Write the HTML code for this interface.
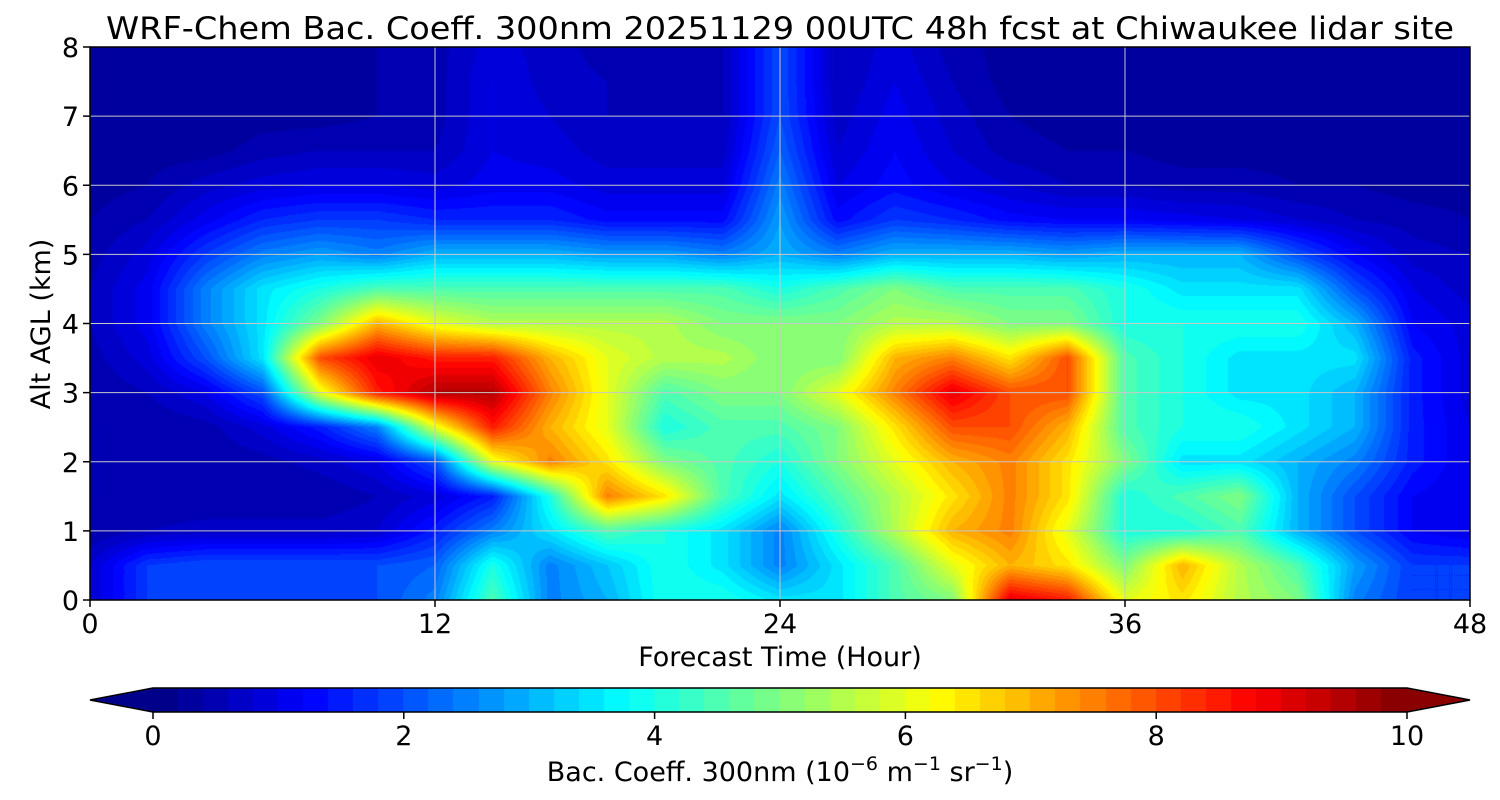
<!DOCTYPE html>
<html><head><meta charset="utf-8">
<style>
html,body{margin:0;padding:0;background:#fff;width:1500px;height:800px;overflow:hidden;font-family:"DejaVu Sans",sans-serif;}
#wrap{position:relative;width:1500px;height:800px;}
canvas,svg{position:absolute;left:0;top:0;}
</style></head>
<body>
<div id="wrap">
<canvas id="field" width="1500" height="800"></canvas>
<svg id="ov" width="1500" height="800"></svg>
</div>
<script>
// ---- data ----
const hours = [0,2,4,6,8,10,12,14,16,18,20,22,24,26,28,30,32,34,36,38,40,42,44,46,48];
const alts = [0,0.5,1,1.5,2,2.5,3,3.5,4,4.5,5,5.5,6,6.5,7,7.5,8];
const values = [
[0.8,1.8,1.8,1.8,1.8,2.0,2.5,4.5,2.5,3.0,4.0,4.0,3.5,3.5,4.5,5.0,9.0,8.5,6.0,6.5,5.5,5.0,2.5,1.8,1.8],
[0.8,1.8,2,2,2,2,2.2,4,2.5,3.2,4,3.5,2.5,3.5,4.5,6,7,6.5,5,7,5.5,4.5,2.8,1.8,1.8],
[0.4,0.6,0.7,0.7,0.7,0.8,1.5,2.5,3.5,4.5,4,3.5,2.5,4,5.5,7,7.5,6,4,4,4.5,3,2,1.2,1],
[0.4,0.4,0.4,0.4,0.4,0.6,0.9,1.5,4,7.5,6.5,4.5,3.5,4.5,5.5,6.5,7.5,6.5,4,4.5,5,3,2,1.2,1],
[0.4,0.4,0.4,0.5,0.7,1,2,6,7.5,6.5,5,4.5,4,5,6,7,7.5,6.5,5,3.5,3.5,3,2.5,1.5,1],
[0.4,0.4,0.5,0.9,1.5,2.5,6,8.5,7,6,4,4.5,4.5,5,6.5,8,8,7,4.5,4,4,3.5,3,1.5,1],
[0.4,0.6,1,2,6,8.5,9.5,9.5,7.5,6,4.5,5,5,6,7.5,9,8,8,4.5,4,3.5,3.5,3,1.5,0.9],
[0.5,0.9,2,3.5,8,9,8.5,8.5,7,6,5.5,5.5,5,5,7,7.5,6.5,8,4.5,4,3.5,3.5,3.5,1.5,0.9],
[0.6,1.1,2.5,3.5,5,7,6,5.5,5.5,5.5,5.5,5,5,5,5.5,5.5,5,5,4,4,4,4,3,1.2,0.9],
[0.6,1.1,2.5,3.5,4,4.5,4.5,4.5,4.5,4.5,4.5,4.5,4,4.5,5,4.5,4.5,4.5,4,3.5,3.5,3.5,2,1,0.7],
[0.5,0.9,1.8,2.5,2.8,2.5,3,3,3,2.8,2.8,2.5,3,2.5,3,3,3,2.8,3,3,3,2,1.2,0.7,0.6],
[0.4,0.6,1.1,1.6,1.8,1.8,1.6,1.6,1.6,1.3,1.3,1.3,2.8,1.3,1.8,1.6,1.3,1.2,1.2,1.1,1,0.8,0.6,0.5,0.4],
[0.3,0.4,0.7,0.9,1,1,0.9,1.1,1.1,0.9,0.9,0.9,2.5,1.0,1.3,1.0,0.8,0.6,0.6,0.5,0.5,0.4,0.4,0.3,0.3],
[0.2,0.3,0.3,0.5,0.6,0.6,0.6,1.0,0.9,0.7,0.7,0.7,2.2,0.8,1.2,0.8,0.5,0.4,0.4,0.3,0.3,0.3,0.3,0.3,0.3],
[0.2,0.2,0.2,0.3,0.3,0.4,0.5,1.0,0.8,0.6,0.6,0.6,2,0.7,1.1,0.7,0.4,0.3,0.3,0.3,0.3,0.3,0.3,0.3,0.3],
[0.2,0.2,0.2,0.2,0.3,0.4,0.5,1.0,0.7,0.6,0.5,0.6,2,0.6,1.0,0.6,0.3,0.2,0.3,0.3,0.3,0.3,0.3,0.3,0.3],
[0.2,0.2,0.2,0.2,0.3,0.4,0.5,0.9,0.7,0.5,0.4,0.6,2,0.6,0.9,0.5,0.3,0.2,0.3,0.3,0.3,0.3,0.3,0.3,0.3]
];
const xTicks = [0,12,24,36,48];
const yTicks = [0,1,2,3,4,5,6,7,8];
const cbTicks = [0,2,4,6,8,10];
const levelStep = 0.2;

// ---- layout ----
const PL=90,PR=1470,PT=47,PB=600;
const X = h => PL + (h-0)/(48-0)*(PR-PL);
const Y = a => PB - (a-0)/(8-0)*(PB-PT);
const CBL=153,CBR=1407,CBT=688,CBB=712;
const CX = v => CBL + v/10*(CBR-CBL);

function jet(t){
  t=Math.max(0,Math.min(1,t));
  const f=(x)=>Math.max(0,Math.min(1,x));
  const r=f(1.5-Math.abs(4*t-3)), g=f(1.5-Math.abs(4*t-2)), b=f(1.5-Math.abs(4*t-1));
  return [Math.round(r*255),Math.round(g*255),Math.round(b*255)];
}
function levelColor(v){
  const n=Math.round(10/levelStep);
  let k=Math.floor(v/levelStep); k=Math.max(0,Math.min(n-1,k));
  return jet((k+0.5)/n);
}
function sample(h,a){
  let i=0; while(i<hours.length-2 && h>hours[i+1]) i++;
  let j=0; while(j<alts.length-2 && a>alts[j+1]) j++;
  const tx=(h-hours[i])/(hours[i+1]-hours[i]), ty=(a-alts[j])/(alts[j+1]-alts[j]);
  const v00=values[j][i],v10=values[j][i+1],v01=values[j+1][i],v11=values[j+1][i+1];
  return (v00*(1-tx)+v10*tx)*(1-ty)+(v01*(1-tx)+v11*tx)*ty;
}
const cv=document.getElementById('field'), ctx=cv.getContext('2d');
const W=PR-PL,H=PB-PT;
const img=ctx.createImageData(W,H);
for(let py=0;py<H;py++){
  const a=8*(1-(py+0.5)/H);
  for(let px=0;px<W;px++){
    const h=48*(px+0.5)/W;
    const c=levelColor(sample(h,a));
    const o=(py*W+px)*4;
    img.data[o]=c[0];img.data[o+1]=c[1];img.data[o+2]=c[2];img.data[o+3]=255;
  }
}
ctx.putImageData(img,PL,PT);
// colorbar
const nl=Math.round(10/levelStep);
for(let k=0;k<nl;k++){
  const c=jet((k+0.5)/nl);
  ctx.fillStyle=`rgb(${c[0]},${c[1]},${c[2]})`;
  ctx.fillRect(Math.floor(CX(k*levelStep)),CBT,Math.ceil(CX((k+1)*levelStep)-CX(k*levelStep))+1,CBB-CBT);
}
let c0=jet(0.5/nl),c1=jet((nl-0.5)/nl);
ctx.fillStyle=`rgb(${c0})`;ctx.beginPath();ctx.moveTo(CBL,CBT);ctx.lineTo(90,(CBT+CBB)/2);ctx.lineTo(CBL,CBB);ctx.fill();
ctx.fillStyle=`rgb(${c1})`;ctx.beginPath();ctx.moveTo(CBR,CBT);ctx.lineTo(1470,(CBT+CBB)/2);ctx.lineTo(CBR,CBB);ctx.fill();

// ---- overlay ----
const svg=document.getElementById('ov'), NS='http://www.w3.org/2000/svg';
const FF='DejaVu Sans, sans-serif';
const FS=27;
function mk(tag,attrs,parent){const e=document.createElementNS(NS,tag);for(const k in attrs)e.setAttribute(k,attrs[k]);(parent||svg).appendChild(e);return e;}
function txt(s,attrs){const e=mk('text',Object.assign({'font-family':FF,'fill':'#000'},attrs));e.textContent=s;return e;}

xTicks.forEach(t=>{
  if(t>0&&t<48){const g=mk('line',{x1:X(t),x2:X(t),y1:PT,y2:PB,stroke:'#c8c8c8','stroke-width':1});
  
  }
  const tk=mk('line',{x1:X(t),x2:X(t),y1:PB,y2:PB+7,stroke:'#000','stroke-width':1.5});
  
  
  const l=txt(String(t),{x:X(t),y:PB+33,'font-size':FS,'text-anchor':'middle'});
  
  
});
yTicks.forEach(t=>{
  if(t>0&&t<8){const g=mk('line',{x1:PL,x2:PR,y1:Y(t),y2:Y(t),stroke:'#c8c8c8','stroke-width':1});
  
  }
  const tk=mk('line',{x1:PL-7,x2:PL,y1:Y(t),y2:Y(t),stroke:'#000','stroke-width':1.5});
  
  
  const l=txt(String(t),{x:PL-11,y:Y(t)+10,'font-size':FS,'text-anchor':'end'});
  
  
});
const fr=mk('rect',{x:PL,y:PT,width:PR-PL,height:PB-PT,fill:'none',stroke:'#000','stroke-width':1.5});


const ti=txt('WRF-Chem Bac. Coeff. 300nm  20251129 00UTC 48h fcst at Chiwaukee lidar site',{x:780,y:39,'font-size':31,'text-anchor':'middle',textLength:1348,lengthAdjust:'spacingAndGlyphs'});


ti.setAttribute('xml:space','preserve');
const xt=txt('Forecast Time (Hour)',{x:780,y:666,'font-size':FS,'text-anchor':'middle'});


const yt=txt('Alt AGL (km)',{x:0,y:0,'font-size':FS,'text-anchor':'middle',transform:'translate(50,324) rotate(-90)'});


// colorbar outline
const cbo=mk('path',{d:`M${CBL},${CBT} L${CBR},${CBT} L1470,${(CBT+CBB)/2} L${CBR},${CBB} L${CBL},${CBB} L90,${(CBT+CBB)/2} Z`,fill:'none',stroke:'#000','stroke-width':1.5});


cbTicks.forEach(t=>{
  const tk=mk('line',{x1:CX(t),x2:CX(t),y1:CBB,y2:CBB+7,stroke:'#000','stroke-width':1.5});
  
  
  const l=txt(String(t),{x:CX(t),y:CBB+33,'font-size':FS,'text-anchor':'middle'});
  
  
});
const cl=mk('text',{x:780,y:781,'font-size':FS,'text-anchor':'middle','font-family':FF});


cl.setAttribute('xml:space','preserve');
cl.innerHTML='Bac. Coeff. 300nm  (10<tspan dy="-11" font-size="19">−6</tspan><tspan dy="11"> m</tspan><tspan dy="-11" font-size="19">−1</tspan><tspan dy="11"> sr</tspan><tspan dy="-11" font-size="19">−1</tspan><tspan dy="11">)</tspan>';
</script>
</body></html>
